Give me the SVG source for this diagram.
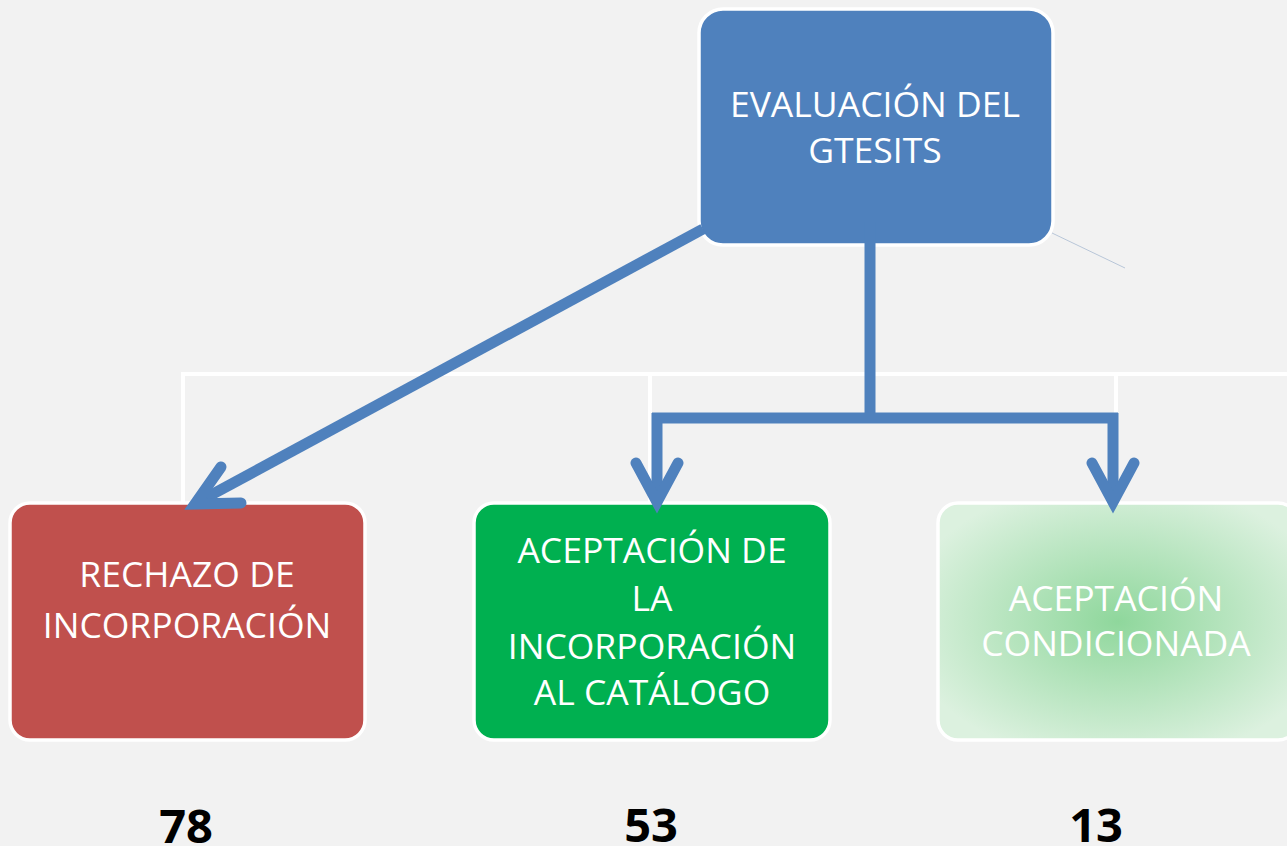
<svg xmlns="http://www.w3.org/2000/svg" width="1287" height="846" viewBox="0 0 1287 846">
  <defs>
    <radialGradient id="gCond" cx="0.5" cy="0.5" r="0.6">
      <stop offset="0" stop-color="#8fd79c"/>
      <stop offset="1" stop-color="#dcf1df"/>
    </radialGradient>
    <style>
      .box { stroke: #ffffff; stroke-width: 3.5; }
      .lbl { font-family: "Open Sans", "Noto Sans", sans-serif; font-size: 35.5px; fill: #ffffff; text-anchor: middle; }
      .num { font-family: "Open Sans", "Noto Sans", sans-serif; font-size: 47px; font-weight: bold; fill: #000000; text-anchor: middle; }
      .white { fill: none; stroke: #ffffff; stroke-width: 4; }
      .blue { fill: none; stroke: #4f81bd; stroke-width: 11; }
      .head { fill: none; stroke: #4f81bd; stroke-width: 11; stroke-linecap: round; stroke-linejoin: miter; }
    </style>
  </defs>
  <rect width="1287" height="846" fill="#f2f2f2"/>

  <g id="org-lines">
    <path class="white" d="M183 505 V374 H1287 M650 374 V505 M1116 374 V505"/>
  </g>

  <g id="node-evaluacion">
    <rect class="box" x="699" y="9" width="354" height="236" rx="24" fill="#4f81bd"/>
    <text class="lbl" x="875" y="117">EVALUACIÓN DEL</text>
    <text class="lbl" x="875" y="163">GTESITS</text>
  </g>

  <g id="node-rechazo">
    <rect class="box" x="10" y="503" width="355" height="237" rx="20" fill="#c0504d"/>
    <text class="lbl" x="187" y="587">RECHAZO DE</text>
    <text class="lbl" x="187" y="638">INCORPORACIÓN</text>
  </g>

  <g id="node-aceptacion">
    <rect class="box" x="474" y="503" width="356" height="237" rx="20" fill="#00b050"/>
    <text class="lbl" x="652" y="563">ACEPTACIÓN DE</text>
    <text class="lbl" x="652" y="611">LA</text>
    <text class="lbl" x="652" y="659">INCORPORACIÓN</text>
    <text class="lbl" x="652" y="705">AL CATÁLOGO</text>
  </g>

  <g id="node-condicionada">
    <rect class="box" x="938" y="503" width="360" height="237" rx="20" fill="url(#gCond)"/>
    <text class="lbl" x="1116" y="611">ACEPTACIÓN</text>
    <text class="lbl" x="1116" y="656">CONDICIONADA</text>
  </g>

  <g id="connectors">
    <line x1="1052" y1="233" x2="1125" y2="268" stroke="#b8c6d8" stroke-width="1"/>
    <line class="blue" x1="703" y1="229" x2="198" y2="502"/>
    <polyline class="head" points="221,467 195,504 241,503"/>
    <path class="blue" d="M870 222 V418 M652 418 H1118 M657 413 V498 M1113 413 V498"/>
    <polyline class="head" points="636,463 657,502 678,463"/>
    <polyline class="head" points="1092,463 1113,502 1134,463"/>
  </g>

  <g id="counts">
    <text class="num" x="186" y="843">78</text>
    <text class="num" x="651" y="842">53</text>
    <text class="num" x="1096" y="842">13</text>
  </g>
</svg>
